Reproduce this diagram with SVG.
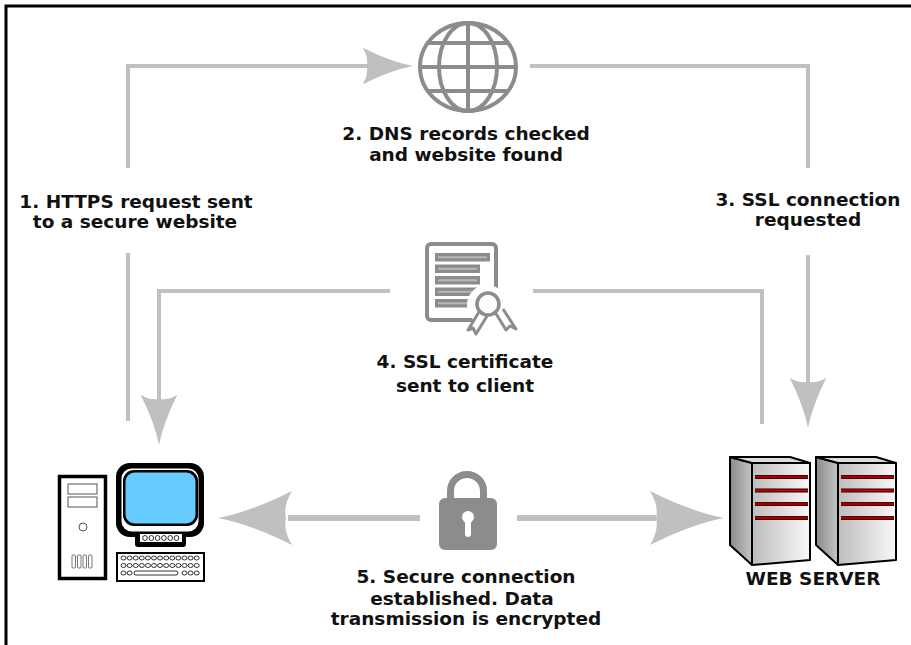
<svg xmlns="http://www.w3.org/2000/svg" xmlns:xlink="http://www.w3.org/1999/xlink" width="911" height="645" viewBox="0 0 911 645">
  <style>
    .frame { fill: none; stroke: #000; stroke-width: 3; }
    .link { fill: none; stroke: #c0c0c0; stroke-width: 4; }
    .link-thick { fill: none; stroke: #c0c0c0; stroke-width: 6; }
    .head { fill: #c0c0c0; }
    .icon { fill: none; stroke: #8c8c8c; stroke-width: 4; }
    .label { font-family: "DejaVu Sans", Verdana, sans-serif; font-weight: bold; font-size: 18.5px; fill: #111; text-anchor: middle; }
    .ol { fill: none; stroke: #000; stroke-width: 0.8; }
    .srv { stroke: #000; stroke-width: 2; stroke-linejoin: round; }
  </style>
  <defs>
    <!-- concave-backed arrowhead, tip at origin, pointing along +x -->
    <path id="head" d="M0,0 Q-32,-6 -74,-27 Q-65,-12 -68,0 Q-65,12 -74,27 Q-32,6 0,0 Z"/>
    <linearGradient id="sideGrad" x1="0" y1="0" x2="1" y2="0">
      <stop offset="0" stop-color="#8a8a8a"/>
      <stop offset="1" stop-color="#c4c4c4"/>
    </linearGradient>
    <linearGradient id="frontGrad" x1="0" y1="0" x2="1" y2="0">
      <stop offset="0" stop-color="#bdbdbd"/>
      <stop offset="1" stop-color="#f8f8f8"/>
    </linearGradient>
    <linearGradient id="slotGrad" x1="0" y1="0" x2="0" y2="1">
      <stop offset="0" stop-color="#2a0000"/>
      <stop offset="0.5" stop-color="#c80000"/>
      <stop offset="1" stop-color="#2a0000"/>
    </linearGradient>
    <!-- one server cabinet, front-left-top corner at origin -->
    <g id="cabinet">
      <polygon class="srv" points="-22,-6 0,0 0,102 -22,82" fill="url(#sideGrad)"/>
      <polygon class="srv" points="-22,-6 38,-6 58,0 0,0" fill="#dcdcdc"/>
      <polygon class="srv" points="0,0 58,0 58,97 0,102" fill="url(#frontGrad)"/>
      <rect x="3" y="12" width="53" height="4" fill="url(#slotGrad)"/>
      <rect x="3" y="25.5" width="53" height="4" fill="url(#slotGrad)"/>
      <rect x="3" y="39" width="53" height="4" fill="url(#slotGrad)"/>
      <rect x="3" y="53" width="53" height="4" fill="url(#slotGrad)"/>
    </g>
  </defs>

  <rect width="911" height="645" fill="#fff"/>
  <rect class="frame" x="6" y="6" width="930" height="660"/>

  <!-- connectors -->
  <g id="connectors">
    <path class="link" d="M128,168 V66 H370"/>
    <use href="#head" class="head" transform="translate(413,66) scale(0.68)"/>
    <path class="link" d="M530,66 H808 V168"/>
    <path class="link" d="M128,253 V421"/>
    <path class="link" d="M808,255 V400"/>
    <use href="#head" class="head" transform="translate(808,428) rotate(90) scale(0.68)"/>
    <path class="link" d="M390,291 H159 V418"/>
    <use href="#head" class="head" transform="translate(159,445) rotate(90) scale(0.68)"/>
    <path class="link" d="M533,291 H762 V424"/>
    <path class="link-thick" d="M420,518 H288"/>
    <use href="#head" class="head" transform="translate(218,518) rotate(180)"/>
    <path class="link-thick" d="M517,518 H656"/>
    <use href="#head" class="head" transform="translate(724,518)"/>
  </g>

  <!-- DNS globe -->
  <g id="dns">
    <ellipse class="icon" cx="468" cy="67" rx="48" ry="44"/>
    <ellipse class="icon" cx="468" cy="67" rx="29" ry="44"/>
    <line class="icon" x1="468" y1="23" x2="468" y2="111"/>
    <line class="icon" x1="420" y1="67" x2="516" y2="67"/>
    <line class="icon" x1="428" y1="43" x2="508" y2="43"/>
    <line class="icon" x1="428" y1="91" x2="508" y2="91"/>
    <text class="label" x="466" y="140">2. DNS records checked</text>
    <text class="label" x="466" y="161">and website found</text>
  </g>

  <!-- step 1 label -->
  <g id="request">
    <text class="label" x="136" y="208">1. HTTPS request sent</text>
    <text class="label" x="135" y="228">to a secure website</text>
  </g>

  <!-- step 3 label -->
  <g id="ssl-request">
    <text class="label" x="808" y="206">3. SSL connection</text>
    <text class="label" x="808" y="226">requested</text>
  </g>

  <!-- SSL certificate -->
  <g id="certificate">
    <rect class="icon" x="427" y="244" width="69" height="76" rx="4" fill="#fff"/>
    <g fill="#8c8c8c">
      <rect x="435" y="253" width="55" height="8.5"/>
      <rect x="435" y="264.5" width="45" height="8.5"/>
      <rect x="435" y="276" width="45" height="8.5"/>
      <rect x="435" y="287.5" width="42" height="8.5"/>
      <rect x="435" y="299" width="36" height="8.5"/>
    </g>
    <g fill="#b8b8b8">
      <rect x="438" y="256.3" width="49" height="2"/>
      <rect x="438" y="267.8" width="39" height="2"/>
      <rect x="438" y="279.3" width="39" height="2"/>
      <rect x="438" y="290.8" width="36" height="2"/>
      <rect x="438" y="302.3" width="30" height="2"/>
    </g>
    <circle cx="487" cy="305" r="20" fill="#fff"/>
    <path d="M479,312 L468,330 L473,328 L476,334 L487,316" fill="#fff" stroke="#8c8c8c" stroke-width="3" stroke-linejoin="round"/>
    <path d="M495,312 L506,330 L510,326 L516,329 L503,309" fill="#fff" stroke="#8c8c8c" stroke-width="3" stroke-linejoin="round"/>
    <circle cx="488" cy="304" r="11" fill="#fff" stroke="#8c8c8c" stroke-width="3.5"/>
    <text class="label" x="465" y="368">4. SSL certificate</text>
    <text class="label" x="465" y="392">sent to client</text>
  </g>

  <!-- padlock -->
  <g id="lock">
    <path d="M450.5,498 V491 A16.5,16.5 0 0 1 483.5,491 V498" fill="none" stroke="#8c8c8c" stroke-width="7"/>
    <rect x="439" y="498" width="58" height="52" rx="6" fill="#8c8c8c"/>
    <circle cx="468" cy="517" r="6" fill="#fff"/>
    <rect x="465" y="517" width="6" height="20" rx="3" fill="#fff"/>
    <text class="label" x="466" y="583">5. Secure connection</text>
    <text class="label" x="462" y="605">established. Data</text>
    <text class="label" x="466" y="625">transmission is encrypted</text>
  </g>

  <!-- client computer -->
  <g id="client">
    <rect x="59.5" y="476.5" width="46" height="102" fill="#fff" stroke="#000" stroke-width="3.5"/>
    <rect x="68" y="484" width="29" height="10" fill="#fff" stroke="#555" stroke-width="1"/>
    <rect x="68" y="497" width="29" height="10" fill="#fff" stroke="#555" stroke-width="1"/>
    <circle cx="83" cy="527" r="4" fill="#fff" stroke="#555" stroke-width="1"/>
    <g fill="#fff" stroke="#555" stroke-width="0.8">
      <rect x="72" y="555" width="3.5" height="13" rx="1"/>
      <rect x="77.5" y="555" width="3.5" height="13" rx="1"/>
      <rect x="83" y="555" width="3.5" height="13" rx="1"/>
      <rect x="88.5" y="555" width="3.5" height="13" rx="1"/>
    </g>
    <!-- monitor -->
    <rect x="135" y="528" width="51" height="19" rx="3" fill="#000"/>
    <rect x="116" y="463" width="88" height="74" rx="14" fill="#000"/>
    <rect x="121.5" y="468.5" width="77" height="63" rx="10" fill="#fff"/>
    <rect x="123" y="470" width="75" height="56" rx="11" fill="#000"/>
    <rect x="125.5" y="472.5" width="70" height="51" rx="9" fill="#66ccff"/>
    <rect x="140" y="534" width="42" height="8" fill="#fff"/>
    <g class="ol">
      <ellipse cx="145" cy="538" rx="2.3" ry="2.5"/>
      <ellipse cx="151.3" cy="538" rx="2.3" ry="2.5"/>
      <ellipse cx="157.6" cy="538" rx="2.3" ry="2.5"/>
      <ellipse cx="163.9" cy="538" rx="2.3" ry="2.5"/>
      <ellipse cx="170.2" cy="538" rx="2.3" ry="2.5"/>
      <ellipse cx="176.5" cy="538" rx="2.3" ry="2.5"/>
    </g>
    <!-- keyboard -->
    <rect x="117" y="553" width="87" height="28" fill="#fff" stroke="#000" stroke-width="2"/>
    <g class="ol">
      <ellipse cx="123.5" cy="558" rx="2.5" ry="2"/>
      <ellipse cx="129.6" cy="558" rx="2.5" ry="2"/>
      <ellipse cx="135.7" cy="558" rx="2.5" ry="2"/>
      <ellipse cx="141.8" cy="558" rx="2.5" ry="2"/>
      <ellipse cx="147.9" cy="558" rx="2.5" ry="2"/>
      <ellipse cx="154" cy="558" rx="2.5" ry="2"/>
      <ellipse cx="160.1" cy="558" rx="2.5" ry="2"/>
      <ellipse cx="166.2" cy="558" rx="2.5" ry="2"/>
      <ellipse cx="172.3" cy="558" rx="2.5" ry="2"/>
      <ellipse cx="178.4" cy="558" rx="2.5" ry="2"/>
      <ellipse cx="184.5" cy="558" rx="2.5" ry="2"/>
      <ellipse cx="190.6" cy="558" rx="2.5" ry="2"/>
      <ellipse cx="196.7" cy="558" rx="2.5" ry="2"/>
      <ellipse cx="123.5" cy="565.5" rx="2.5" ry="2"/>
      <ellipse cx="129.6" cy="565.5" rx="2.5" ry="2"/>
      <ellipse cx="135.7" cy="565.5" rx="2.5" ry="2"/>
      <ellipse cx="141.8" cy="565.5" rx="2.5" ry="2"/>
      <ellipse cx="147.9" cy="565.5" rx="2.5" ry="2"/>
      <ellipse cx="154" cy="565.5" rx="2.5" ry="2"/>
      <ellipse cx="160.1" cy="565.5" rx="2.5" ry="2"/>
      <ellipse cx="166.2" cy="565.5" rx="2.5" ry="2"/>
      <ellipse cx="172.3" cy="565.5" rx="2.5" ry="2"/>
      <ellipse cx="178.4" cy="565.5" rx="2.5" ry="2"/>
      <ellipse cx="184.5" cy="565.5" rx="2.5" ry="2"/>
      <ellipse cx="190.6" cy="565.5" rx="2.5" ry="2"/>
      <ellipse cx="196.7" cy="565.5" rx="2.5" ry="2"/>
      <ellipse cx="123.5" cy="573" rx="2.5" ry="2"/>
      <ellipse cx="129.6" cy="573" rx="2.5" ry="2"/>
      <rect x="134" y="571" width="44" height="4" rx="2"/>
      <ellipse cx="184.5" cy="573" rx="2.5" ry="2"/>
      <ellipse cx="190.6" cy="573" rx="2.5" ry="2"/>
      <ellipse cx="196.7" cy="573" rx="2.5" ry="2"/>
    </g>
  </g>

  <!-- web server -->
  <g id="server">
    <use href="#cabinet" transform="translate(752,463)"/>
    <use href="#cabinet" transform="translate(838,463)"/>
    <text class="label" x="813" y="585">WEB SERVER</text>
  </g>
</svg>
